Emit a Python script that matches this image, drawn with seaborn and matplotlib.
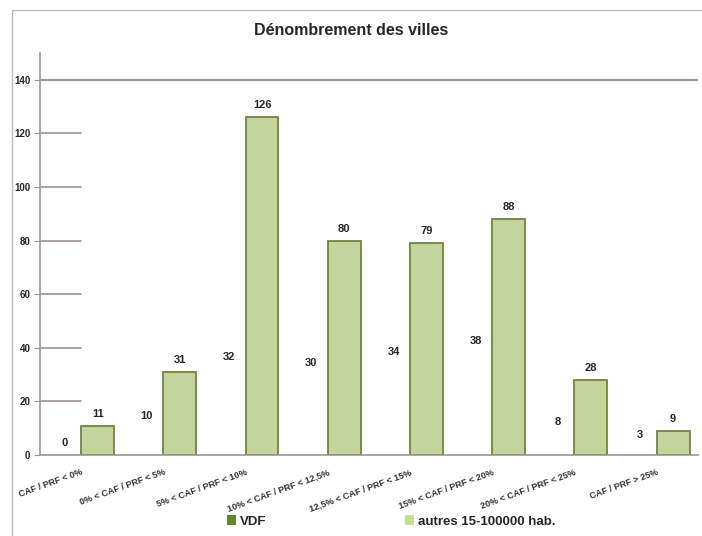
import pandas as pd
import matplotlib.pyplot as plt
import matplotlib.patches as mpatches
import seaborn as sns

categories = [
    "CAF / PRF < 0%",
    "0% < CAF / PRF < 5%",
    "5% < CAF / PRF < 10%",
    "10% < CAF / PRF < 12,5%",
    "12,5% < CAF / PRF < 15%",
    "15% < CAF / PRF < 20%",
    "20% < CAF / PRF < 25%",
    "CAF / PRF > 25%",
]
vdf = [0, 10, 32, 30, 34, 38, 8, 3]
autres = [11, 31, 126, 80, 79, 88, 28, 9]
series = ["VDF", "autres 15-100000 hab."]
yticks = [0, 20, 40, 60, 80, 100, 120, 140]

df = pd.DataFrame({
    "cat": categories * 2,
    "serie": [series[0]] * len(vdf) + [series[1]] * len(autres),
    "n": vdf + autres,
})

sns.set_style("white")
plt.rcParams["font.family"] = ["Liberation Sans", "DejaVu Sans"]

fig = plt.figure(figsize=(7.02, 5.36), dpi=100)
ax = fig.add_axes([0.057, 0.151, 0.937, 0.750])

light = "#c6de94"
edge = "#74843e"
sns.barplot(data=df, x="cat", y="n", hue="serie", order=categories,
            hue_order=series, palette={series[0]: "white", series[1]: light},
            width=0.8, ax=ax, legend=False)

for i, cont in enumerate(ax.containers):
    for p in cont:
        if i == 1:
            p.set_edgecolor(edge)
            p.set_linewidth(1.3)
        else:
            p.set_edgecolor("none")
    ax.bar_label(cont, padding=5, fontsize=8, fontweight="bold")

ax.set_ylim(0, 150)
ax.set_xlim(-0.5, len(categories) - 0.5)
ax.set_yticks(yticks)
ax.set_yticklabels([str(v) for v in yticks], fontsize=7, fontweight="bold")
ax.set_xticks(range(len(categories)))
ax.set_xticklabels(categories, rotation=20, ha="right", rotation_mode="anchor",
                   fontsize=6.5, fontweight="bold", color="#333333")
ax.tick_params(axis="x", length=0, pad=9)
ax.set_xticks([i + 0.5 for i in range(len(categories))], minor=True)
ax.tick_params(axis="x", which="minor", length=4, color="#a09090")
ax.tick_params(axis="y", length=4, color="#a09090", left=True, pad=3)
ax.set_xlabel("")
ax.set_ylabel("")

# short grid stubs like the source, full line at 140
for v in yticks[1:-1]:
    ax.axhline(v, xmin=0, xmax=0.062, color="#a09494", lw=1.2)
ax.axhline(140, color="#a09494", lw=1.5)

for s in ["top", "right"]:
    ax.spines[s].set_visible(False)
ax.spines["left"].set_color("#a09494")
ax.spines["bottom"].set_color("#a09494")
ax.spines["left"].set_linewidth(1.2)
ax.spines["bottom"].set_linewidth(1.2)

fig.text(0.5, 0.943, "Dénombrement des villes", ha="center", va="center",
         fontsize=11.5, fontweight="bold")

handles = [mpatches.Patch(facecolor="#5b8a2e", edgecolor="none", label=series[0]),
           mpatches.Patch(facecolor=light, edgecolor="none", label=series[1])]
fig.legend(handles=handles, loc="center", bbox_to_anchor=(0.557, 0.027), ncol=2,
           frameon=False, columnspacing=10.5, handlelength=0.7, handleheight=0.7,
           handletextpad=0.3, prop={"weight": "bold", "size": 9.5})

fig.add_artist(mpatches.Rectangle((0.017, -0.01), 1.0, 0.992, transform=fig.transFigure,
                                  fill=False, edgecolor="#bbbbbb", lw=1))

fig.savefig("out.png", dpi=100)
